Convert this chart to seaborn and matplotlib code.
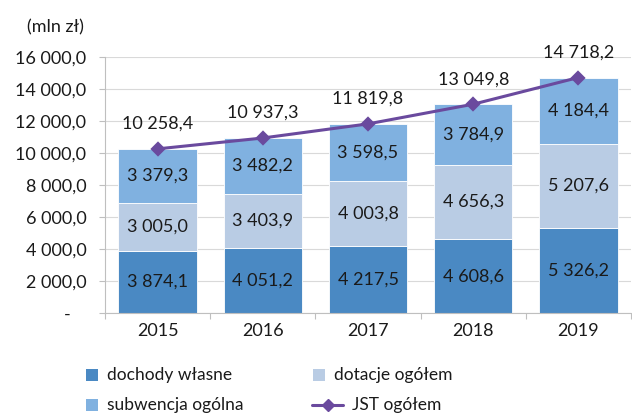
import matplotlib
matplotlib.use("Agg")
import matplotlib.pyplot as plt
import matplotlib.transforms as mtransforms
import seaborn as sns
import numpy as np
import pandas as pd
from matplotlib.patches import Rectangle
from matplotlib.lines import Line2D

years = ["2015", "2016", "2017", "2018", "2019"]
dochody_wlasne = [3874.1, 4051.2, 4217.5, 4608.6, 5326.2]
dotacje_ogolem = [3005.0, 3403.9, 4003.8, 4656.3, 5207.6]
subwencja_ogolna = [3379.3, 3482.2, 3598.5, 3784.9, 4184.4]
jst_ogolem = [10258.4, 10937.3, 11819.8, 13049.8, 14718.2]
y_ticks = [0, 2000, 4000, 6000, 8000, 10000, 12000, 14000, 16000]

c_dw = "#4a89c3"
c_dot = "#b9cce4"
c_sub = "#80b1e0"
c_line = "#6a4a9e"

sns.set_theme(style="white")
plt.rcParams['font.family'] = ['Lato', 'DejaVu Sans']
FS = 13
FL = 12.5

def fmt(v):
    s = f"{v:,.1f}".replace(",", " ").replace(".", ",")
    return s

W, H = 632, 416
fig = plt.figure(figsize=(W/100, H/100), dpi=100)
ax = fig.add_axes([105/W, 1-313/H, (631-105)/W, (313-57)/H])

df = pd.DataFrame({"rok": years, "dw": dochody_wlasne, "dot": dotacje_ogolem,
                   "sub": subwencja_ogolna, "jst": jst_ogolem})
b1 = np.array(dochody_wlasne)
b2 = b1 + np.array(dotacje_ogolem)
sns.barplot(data=df, x="rok", y="dw", color=c_dw, saturation=1, width=0.745,
            ax=ax, edgecolor="white", linewidth=0.6, zorder=2)
sns.barplot(data=df, x="rok", y="dot", color=c_dot, saturation=1, width=0.745,
            bottom=b1, ax=ax, edgecolor="white", linewidth=0.6, zorder=2)
sns.barplot(data=df, x="rok", y="sub", color=c_sub, saturation=1, width=0.745,
            bottom=b2, ax=ax, edgecolor="white", linewidth=0.6, zorder=2)
sns.pointplot(data=df, x="rok", y="jst", color=c_line, markers="D", ax=ax,
              linewidth=2.2, markersize=6.5)
for coll in ax.collections:
    coll.set_zorder(5)
for ln in ax.lines:
    ln.set_zorder(5)

for i in range(len(years)):
    ax.text(i, dochody_wlasne[i]/2, fmt(dochody_wlasne[i]), ha="center", va="center",
            fontsize=FS, color="#1a1a1a", zorder=6)
    ax.text(i, b1[i] + dotacje_ogolem[i]/2, fmt(dotacje_ogolem[i]), ha="center", va="center",
            fontsize=FS, color="#1a1a1a", zorder=6)
    ax.text(i, b2[i] + subwencja_ogolna[i]/2, fmt(subwencja_ogolna[i]), ha="center", va="center",
            fontsize=FS, color="#1a1a1a", zorder=6)
    ax.annotate(fmt(jst_ogolem[i]), (i, jst_ogolem[i]), xytext=(0, 18),
                textcoords="offset points", ha="center", va="center",
                fontsize=FS, color="#1a1a1a", zorder=6)

ax.set_xlim(-0.5, 4.5)
ax.set_ylim(0, 16000)
ax.set_yticks(y_ticks)
ax.set_yticklabels(["-" if v == 0 else fmt(v) for v in y_ticks], fontsize=FS, color="#1a1a1a")
ax.tick_params(axis="x", labelsize=FS, labelcolor="#1a1a1a", length=0, pad=7)
ax.tick_params(axis="y", left=True, length=4.5, color="#bfbfbf", width=0.8, pad=9)
ax.set_xlabel("")
ax.set_ylabel("")
ax.grid(axis="y", color="#d9d9d9", linewidth=0.8, zorder=0)
ax.set_axisbelow(True)
for s in ["top", "right"]:
    ax.spines[s].set_visible(False)
for s in ["left", "bottom"]:
    ax.spines[s].set_color("#bfbfbf")
    ax.spines[s].set_linewidth(0.8)
ax.set_xticks(np.arange(-0.5, 5.0, 1.0), minor=True)
ax.tick_params(axis="x", which="minor", bottom=True, length=4.5, color="#bfbfbf", width=0.8)

# shift the "-" zero label left like Excel accounting format
zero_lbl = ax.get_yticklabels()[0]
zero_lbl.set_transform(zero_lbl.get_transform() +
                       mtransforms.ScaledTranslation(-16/100, 0, fig.dpi_scale_trans))

fig.text(27/W, 1-27/H, "(mln zł)", ha="left", va="center", fontsize=FS, color="#1a1a1a")

def px(x, y):
    return x/W, 1-y/H
sq = 12
entries = [
    (86, 375, "patch", c_dw, "dochody własne"),
    (313, 375, "patch", c_dot, "dotacje ogółem"),
    (86, 405, "patch", c_sub, "subwencja ogólna"),
    (312, 405, "line", c_line, "JST ogółem"),
]
for x, y, kind, col, lab in entries:
    if kind == "patch":
        fig.add_artist(Rectangle(px(x, y + sq/2), sq/W, sq/H, transform=fig.transFigure,
                                 facecolor=col, edgecolor="none"))
        tx = x + sq + 9
    else:
        fig.add_artist(Line2D([x/W, (x+31)/W], [1-y/H, 1-y/H], transform=fig.transFigure,
                              color=col, linewidth=2.2))
        fig.add_artist(Line2D([(x+15.5)/W], [1-y/H], transform=fig.transFigure,
                              color=col, marker="D", markersize=6.5, linestyle="none"))
        tx = x + 31 + 9
    fig.text(tx/W, 1-y/H, lab, ha="left", va="center", fontsize=FL, color="#1a1a1a")

fig.savefig("out.png", dpi=100)
